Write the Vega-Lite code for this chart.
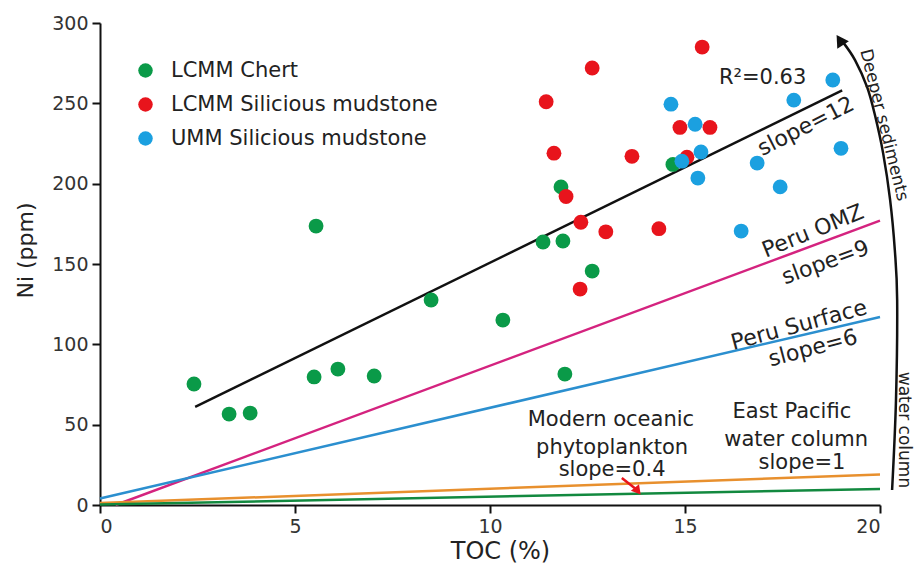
{
  "$schema": "https://vega.github.io/schema/vega-lite/v6.json",
  "width": 780,
  "height": 482,
  "autosize": {"type": "none"},
  "padding": {"left": 100, "top": 23, "right": 34, "bottom": 59},
  "background": "white",
  "config": {
    "view": {"stroke": null},
    "font": "DejaVu Sans",
    "axis": {
      "grid": false,
      "domainColor": "#111111",
      "domainWidth": 2,
      "tickColor": "#111111",
      "tickWidth": 2,
      "tickSize": 8,
      "labelFont": "DejaVu Sans",
      "labelFontSize": 19,
      "labelColor": "#333333",
      "titleFont": "DejaVu Sans",
      "titleFontWeight": "normal",
      "titleColor": "#222222"
    }
  },
  "datasets": {
    "pts": [
      {"series": "LCMM Chert", "x": 2.41, "y": 75.3},
      {"series": "LCMM Chert", "x": 3.31, "y": 56.6},
      {"series": "LCMM Chert", "x": 3.85, "y": 57.2},
      {"series": "LCMM Chert", "x": 5.54, "y": 173.6},
      {"series": "LCMM Chert", "x": 5.49, "y": 79.7},
      {"series": "LCMM Chert", "x": 6.10, "y": 84.6},
      {"series": "LCMM Chert", "x": 7.03, "y": 80.3},
      {"series": "LCMM Chert", "x": 8.49, "y": 127.6},
      {"series": "LCMM Chert", "x": 10.33, "y": 115.1},
      {"series": "LCMM Chert", "x": 11.92, "y": 81.5},
      {"series": "LCMM Chert", "x": 12.62, "y": 145.6},
      {"series": "LCMM Chert", "x": 11.36, "y": 163.7},
      {"series": "LCMM Chert", "x": 11.87, "y": 164.3},
      {"series": "LCMM Chert", "x": 11.82, "y": 198},
      {"series": "LCMM Chert", "x": 14.69, "y": 212},
      {"series": "LCMM Silicious mudstone", "x": 15.44, "y": 285},
      {"series": "LCMM Silicious mudstone", "x": 12.62, "y": 272},
      {"series": "LCMM Silicious mudstone", "x": 11.44, "y": 251},
      {"series": "LCMM Silicious mudstone", "x": 11.64, "y": 219},
      {"series": "LCMM Silicious mudstone", "x": 13.64, "y": 217},
      {"series": "LCMM Silicious mudstone", "x": 14.87, "y": 235},
      {"series": "LCMM Silicious mudstone", "x": 15.64, "y": 235},
      {"series": "LCMM Silicious mudstone", "x": 15.05, "y": 216.5},
      {"series": "LCMM Silicious mudstone", "x": 11.95, "y": 192},
      {"series": "LCMM Silicious mudstone", "x": 12.33, "y": 176},
      {"series": "LCMM Silicious mudstone", "x": 12.97, "y": 170},
      {"series": "LCMM Silicious mudstone", "x": 14.33, "y": 172},
      {"series": "LCMM Silicious mudstone", "x": 12.31, "y": 134.4},
      {"series": "UMM Silicious mudstone", "x": 18.79, "y": 264.5},
      {"series": "UMM Silicious mudstone", "x": 17.79, "y": 252},
      {"series": "UMM Silicious mudstone", "x": 14.64, "y": 249.5},
      {"series": "UMM Silicious mudstone", "x": 15.26, "y": 237},
      {"series": "UMM Silicious mudstone", "x": 15.41, "y": 219.7},
      {"series": "UMM Silicious mudstone", "x": 14.92, "y": 214},
      {"series": "UMM Silicious mudstone", "x": 16.85, "y": 212.8},
      {"series": "UMM Silicious mudstone", "x": 19.0, "y": 222},
      {"series": "UMM Silicious mudstone", "x": 15.33, "y": 203.5},
      {"series": "UMM Silicious mudstone", "x": 17.44, "y": 198},
      {"series": "UMM Silicious mudstone", "x": 16.44, "y": 170.5}
    ],
    "lines": [
      {"name": "Regression", "x": 2.44, "y": 61},
      {"name": "Regression", "x": 19.03, "y": 258},
      {"name": "Peru OMZ", "x": 0.4, "y": 0},
      {"name": "Peru OMZ", "x": 20, "y": 177},
      {"name": "Peru Surface", "x": 0, "y": 4},
      {"name": "Peru Surface", "x": 20, "y": 117},
      {"name": "East Pacific", "x": 0, "y": 1.2},
      {"name": "East Pacific", "x": 20, "y": 19},
      {"name": "Modern oceanic", "x": 0, "y": 0.3},
      {"name": "Modern oceanic", "x": 20, "y": 10}
    ],
    "arc": [
      {"ord": 1, "x": 20.31, "y": 9.3},
      {"ord": 2, "x": 20.41, "y": 65.3},
      {"ord": 3, "x": 20.44, "y": 127.6},
      {"ord": 4, "x": 20.38, "y": 158.7},
      {"ord": 5, "x": 20.26, "y": 189.8},
      {"ord": 6, "x": 20.08, "y": 219.0},
      {"ord": 7, "x": 19.87, "y": 242.7},
      {"ord": 8, "x": 19.67, "y": 260.1},
      {"ord": 9, "x": 19.36, "y": 276.9},
      {"ord": 10, "x": 19.05, "y": 288.1}
    ],
    "labels": [
      {"grp": "h", "label": "Modern oceanic", "x": 13.1, "y": 52.9},
      {"grp": "h", "label": "phytoplankton", "x": 13.13, "y": 35.5},
      {"grp": "h", "label": "slope=0.4", "x": 13.13, "y": 21.8},
      {"grp": "h", "label": "East Pacific", "x": 17.74, "y": 57.9},
      {"grp": "h", "label": "water column", "x": 17.85, "y": 40.4},
      {"grp": "h", "label": "slope=1", "x": 18.0, "y": 26.1},
      {"grp": "r", "label": "R²=0.63", "x": 16.99, "y": 265.6},
      {"grp": "a27", "label": "slope=12", "x": 18.1, "y": 235.8},
      {"grp": "a22", "label": "Peru OMZ", "x": 18.28, "y": 170.5},
      {"grp": "a20", "label": "slope=9", "x": 18.6, "y": 151},
      {"grp": "a15", "label": "Peru Surface", "x": 17.92, "y": 112},
      {"grp": "a15", "label": "slope=6", "x": 18.28, "y": 97.7},
      {"grp": "v76", "label": "Deeper sediments", "x": 20.1, "y": 236.5},
      {"grp": "v90", "label": "water column", "x": 20.62, "y": 46.7}
    ],
    "arrow": [
      {"x": 13.38, "y": 16.8, "x2": 13.74, "y2": 10.0}
    ],
    "heads": [
      {"kind": "red", "x": 13.79, "y": 8.7},
      {"kind": "arc", "x": 18.97, "y": 289.4}
    ]
  },
  "encoding": {
    "x": {
      "field": "x",
      "type": "quantitative",
      "scale": {"domain": [0, 20], "nice": false, "zero": false},
      "axis": {"values": [0, 5, 10, 15, 20], "title": "TOC (%)", "titleFontSize": 24, "titleX": 400, "titleY": 58, "titleAlign": "center", "titleBaseline": "bottom", "labelPadding": 4}
    },
    "y": {
      "field": "y",
      "type": "quantitative",
      "scale": {"domain": [0, 300], "nice": false, "zero": false},
      "axis": {"values": [0, 50, 100, 150, 200, 250, 300], "title": "Ni (ppm)", "titleFontSize": 22, "titleX": -75, "titleY": 227, "titleAngle": -90, "titleAlign": "center", "titleBaseline": "middle", "labelPadding": 4}
    }
  },
  "layer": [
    {
      "data": {"name": "lines"},
      "mark": {"type": "line", "strokeWidth": 2.5},
      "encoding": {
        "detail": {"field": "name"},
        "color": {
          "field": "name",
          "type": "nominal",
          "scale": {
            "domain": ["Regression", "Peru OMZ", "Peru Surface", "East Pacific", "Modern oceanic"],
            "range": ["#111111", "#d4237f", "#2b8fcf", "#e8902e", "#12893f"]
          },
          "legend": null
        }
      }
    },
    {
      "data": {"name": "pts"},
      "mark": {"type": "circle", "size": 220, "opacity": 1},
      "encoding": {
        "color": {
          "field": "series",
          "type": "nominal",
          "scale": {
            "domain": ["LCMM Chert", "LCMM Silicious mudstone", "UMM Silicious mudstone"],
            "range": ["#0a9a48", "#e8141c", "#1ba0e0"]
          },
          "legend": {
            "orient": "none",
            "legendX": 35,
            "legendY": 37,
            "title": null,
            "padding": 0,
            "labelFont": "DejaVu Sans",
            "labelFontSize": 21,
            "labelColor": "#222222",
            "labelLimit": 500,
            "symbolSize": 210,
            "symbolType": "circle",
            "symbolStrokeWidth": 0,
            "symbolOpacity": 1,
            "rowPadding": 12,
            "labelOffset": 15
          }
        }
      }
    },
    {
      "data": {"name": "arc"},
      "mark": {"type": "line", "color": "#111111", "strokeWidth": 2.5, "interpolate": "cardinal"},
      "encoding": {"order": {"field": "ord", "type": "quantitative"}}
    },
    {
      "data": {"name": "arrow"},
      "mark": {"type": "rule", "color": "#e8141c", "strokeWidth": 2.5},
      "encoding": {"x2": {"field": "x2"}, "y2": {"field": "y2"}}
    },
    {
      "data": {"name": "heads"},
      "transform": [{"filter": "datum.kind == 'red'"}],
      "mark": {"type": "point", "shape": "triangle-down", "filled": true, "opacity": 1, "color": "#e8141c", "size": 110, "angle": -39},
      "encoding": {}
    },
    {
      "data": {"name": "heads"},
      "transform": [{"filter": "datum.kind == 'arc'"}],
      "mark": {"type": "point", "shape": "triangle-up", "filled": true, "opacity": 1, "color": "#111111", "size": 190, "angle": -33},
      "encoding": {}
    },
    {
      "data": {"name": "labels"},
      "transform": [{"filter": "datum.grp == 'h'"}],
      "mark": {"type": "text", "font": "DejaVu Sans", "fontSize": 21, "color": "#222222", "align": "center", "baseline": "middle"},
      "encoding": {"text": {"field": "label"}}
    },
    {
      "data": {"name": "labels"},
      "transform": [{"filter": "datum.grp == 'r'"}],
      "mark": {"type": "text", "font": "DejaVu Sans", "fontSize": 21, "color": "#222222", "align": "center", "baseline": "middle"},
      "encoding": {"text": {"field": "label"}}
    },
    {
      "data": {"name": "labels"},
      "transform": [{"filter": "datum.grp == 'a27'"}],
      "mark": {"type": "text", "font": "DejaVu Sans", "fontSize": 22, "color": "#222222", "align": "center", "baseline": "middle", "angle": -27},
      "encoding": {"text": {"field": "label"}}
    },
    {
      "data": {"name": "labels"},
      "transform": [{"filter": "datum.grp == 'a22'"}],
      "mark": {"type": "text", "font": "DejaVu Sans", "fontSize": 22, "color": "#222222", "align": "center", "baseline": "middle", "angle": -22},
      "encoding": {"text": {"field": "label"}}
    },
    {
      "data": {"name": "labels"},
      "transform": [{"filter": "datum.grp == 'a20'"}],
      "mark": {"type": "text", "font": "DejaVu Sans", "fontSize": 22, "color": "#222222", "align": "center", "baseline": "middle", "angle": -20},
      "encoding": {"text": {"field": "label"}}
    },
    {
      "data": {"name": "labels"},
      "transform": [{"filter": "datum.grp == 'a15'"}],
      "mark": {"type": "text", "font": "DejaVu Sans", "fontSize": 22, "color": "#222222", "align": "center", "baseline": "middle", "angle": -15},
      "encoding": {"text": {"field": "label"}}
    },
    {
      "data": {"name": "labels"},
      "transform": [{"filter": "datum.grp == 'v76'"}],
      "mark": {"type": "text", "font": "DejaVu Sans", "fontSize": 17, "color": "#222222", "align": "center", "baseline": "middle", "angle": 76},
      "encoding": {"text": {"field": "label"}}
    },
    {
      "data": {"name": "labels"},
      "transform": [{"filter": "datum.grp == 'v90'"}],
      "mark": {"type": "text", "font": "DejaVu Sans", "fontSize": 17, "color": "#222222", "align": "center", "baseline": "middle", "angle": 90},
      "encoding": {"text": {"field": "label"}}
    }
  ],
  "resolve": {"scale": {"color": "independent"}}
}
